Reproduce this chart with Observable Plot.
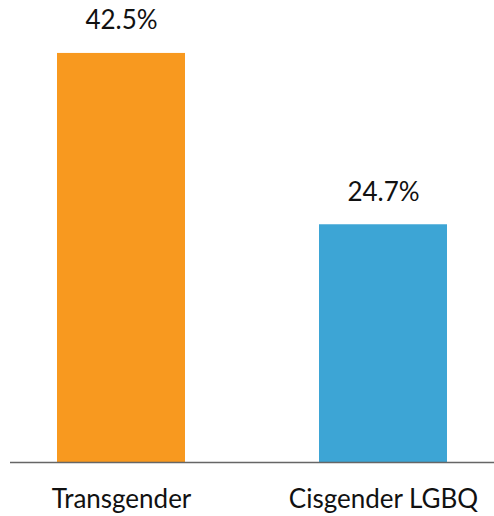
<!DOCTYPE html>
<html>
<head>
<meta charset="utf-8">
<script src="https://cdn.jsdelivr.net/npm/d3@7"></script>
<script src="https://cdn.jsdelivr.net/npm/@observablehq/plot@0.6"></script>
<style>
  html, body { margin: 0; padding: 0; background: #fff; }
  #chart { width: 494px; height: 516px; }
</style>
</head>
<body>
<div id="chart"></div>
<script>
const categories = ["Transgender", "Cisgender LGBQ"];
const values = [42.5, 24.7];
const labels = ["42.5%", "24.7%"];
const colors = ["#F8991F", "#3DA5D5"];

const data = categories.map((c, i) => ({category: c, value: values[i], label: labels[i], color: colors[i]}));

const chart = Plot.plot({
  width: 494,
  height: 516,
  marginTop: 0,
  marginBottom: 54,
  marginLeft: 10,
  marginRight: 0,
  style: {fontFamily: "Lato", fontSize: "26px", color: "#111", background: "#fff"},
  x: {domain: categories, paddingInner: 0.513, paddingOuter: 0.179, label: null},
  y: {domain: [0, 48], axis: null},
  marks: [
    Plot.barY(data, {x: "category", y: "value", fill: "color"}),
    Plot.ruleY([0], {stroke: "#666", strokeWidth: 1.5}),
    Plot.text(data, {x: "category", y: "value", text: "label", lineAnchor: "bottom", dy: -24, fontSize: 26, fill: "#111"}),
    Plot.axisX({tickSize: 0, tickPadding: 27, fontSize: 26, label: null, fill: "#111"})
  ]
});
document.getElementById("chart").appendChild(chart);
</script>
</body>
</html>
